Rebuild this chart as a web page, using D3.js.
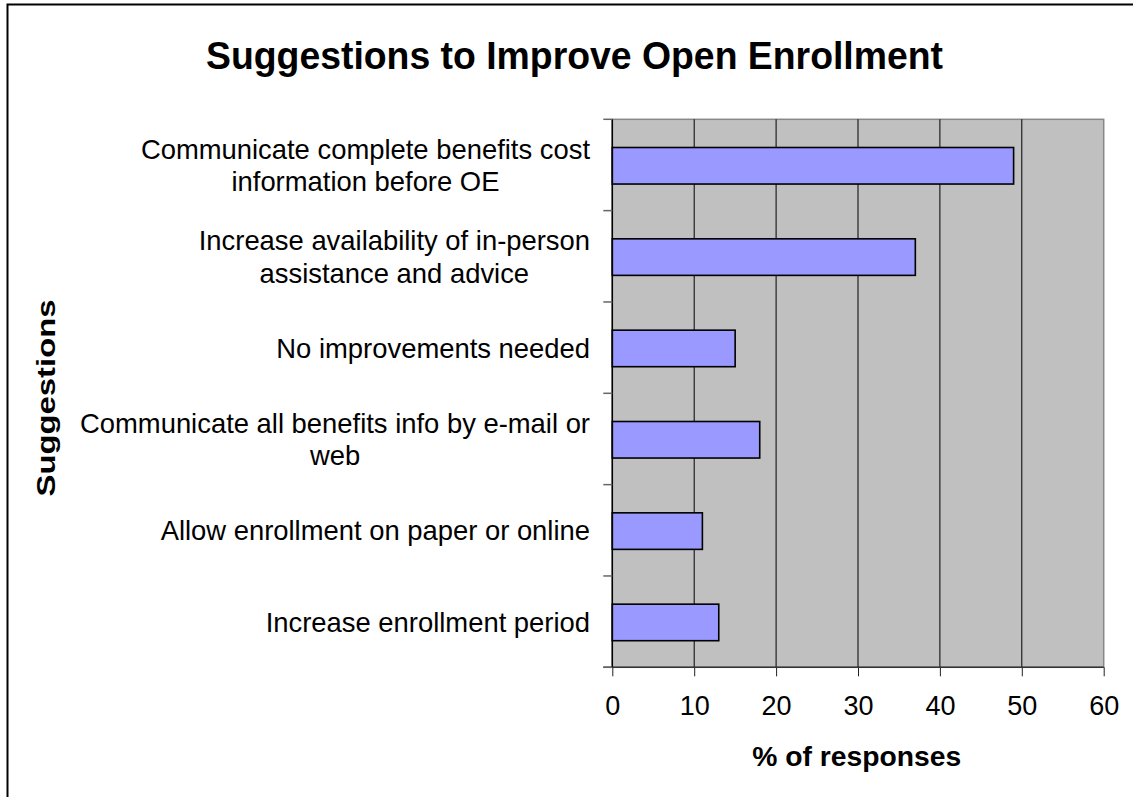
<!DOCTYPE html>
<html>
<head>
<meta charset="utf-8">
<script src="https://cdn.jsdelivr.net/npm/d3@7"></script>
<style>
  html, body { margin: 0; padding: 0; background: #fff; }
  svg { display: block; font-family: "Liberation Sans", Arial, sans-serif; }
</style>
</head>
<body>
<svg id="chart" width="1133" height="797"></svg>
<script>
// Survey responses: suggestions to improve open enrollment
const categories = [
  ["Communicate complete benefits cost", "information before OE"],
  ["Increase availability of in-person", "assistance and advice"],
  ["No improvements needed"],
  ["Communicate all benefits info by e-mail or", "web"],
  ["Allow enrollment on paper or online"],
  ["Increase enrollment period"]
];
const values = [49, 37, 15, 18, 11, 13];
const xTicks = [0, 10, 20, 30, 40, 50, 60];

const title = "Suggestions to Improve Open Enrollment";
const xTitle = "% of responses";
const yTitle = "Suggestions";

const svg = d3.select("#chart");

// outer chart frame
svg.append("rect")
  .attr("x", 7.5).attr("y", 4.5)
  .attr("width", 1300).attr("height", 1000)
  .attr("fill", "#fff").attr("stroke", "#000").attr("stroke-width", 2);

const plot = { left: 612.3, right: 1103.7, top: 119.3, bottom: 667.3 };

const x = d3.scaleLinear().domain([0, 60]).range([plot.left, plot.right]);
const keys = categories.map((c, i) => i);
const y = d3.scaleBand().domain(keys).range([plot.top, plot.bottom])
  .paddingInner(0.6).paddingOuter(0.3);

// plot area background
svg.append("rect")
  .attr("x", plot.left).attr("y", plot.top)
  .attr("width", plot.right - plot.left).attr("height", plot.bottom - plot.top)
  .attr("fill", "#c0c0c0").attr("stroke", "#888").attr("stroke-width", 1.5);

// vertical gridlines
svg.append("g").selectAll("line")
  .data(xTicks.slice(1, -1))
  .join("line")
  .attr("x1", d => x(d)).attr("x2", d => x(d))
  .attr("y1", plot.top).attr("y2", plot.bottom)
  .attr("stroke", "#000").attr("stroke-width", 1);

// bars
svg.append("g").selectAll("rect")
  .data(values)
  .join("rect")
  .attr("x", x(0))
  .attr("y", (d, i) => y(i) + 0.8)
  .attr("width", d => x(d) - x(0))
  .attr("height", y.bandwidth())
  .attr("fill", "#9999ff")
  .attr("stroke", "#000").attr("stroke-width", 1.6);

// x axis
const xAxis = svg.append("g")
  .attr("transform", `translate(0,${plot.bottom})`)
  .call(d3.axisBottom(x).tickValues(xTicks).tickSize(9).tickPadding(20).tickSizeOuter(0));
xAxis.select(".domain").remove();
xAxis.selectAll(".tick line").attr("stroke", "#222");
xAxis.selectAll(".tick text")
  .attr("font-size", 27).attr("fill", "#000")
  .attr("font-family", "Liberation Sans, Arial, sans-serif");
svg.append("line")
  .attr("x1", plot.left - 9).attr("x2", plot.right)
  .attr("y1", plot.bottom).attr("y2", plot.bottom)
  .attr("stroke", "#333").attr("stroke-width", 1.5);

// y axis line and boundary ticks
svg.append("line")
  .attr("x1", plot.left).attr("x2", plot.left)
  .attr("y1", plot.top).attr("y2", plot.bottom)
  .attr("stroke", "#000").attr("stroke-width", 1.5);
const boundaries = d3.range(categories.length + 1).map(i => plot.top + i * y.step());
svg.append("g").selectAll("line")
  .data(boundaries)
  .join("line")
  .attr("x1", plot.left - 9).attr("x2", plot.left)
  .attr("y1", d => d).attr("y2", d => d)
  .attr("stroke", "#666").attr("stroke-width", 1.5);

// category labels: block right-aligned, lines centred within block
const lineH = 32.7;
const fs = 27.4;
const labelRight = 590;
const labels = svg.append("g")
  .attr("font-size", fs).attr("fill", "#000");
categories.forEach((lines, i) => {
  const cy = y(i) + y.bandwidth() / 2;
  const g = labels.append("g");
  const texts = lines.map((ln, j) => g.append("text")
    .attr("y", cy + 10 + (j - (lines.length - 1) / 2) * lineH)
    .text(ln));
  const widths = texts.map(t => t.node().getComputedTextLength());
  const maxW = d3.max(widths);
  const center = labelRight - maxW / 2;
  texts.forEach(t => t.attr("x", center).attr("text-anchor", "middle"));
});

// titles
svg.append("text")
  .attr("x", 574.5).attr("y", 69)
  .attr("text-anchor", "middle")
  .attr("font-size", 38).attr("font-weight", "bold")
  .attr("textLength", 737).attr("lengthAdjust", "spacingAndGlyphs")
  .text(title);

svg.append("text")
  .attr("x", 856.7).attr("y", 766)
  .attr("text-anchor", "middle")
  .attr("font-size", 28).attr("font-weight", "bold")
  .attr("textLength", 209).attr("lengthAdjust", "spacingAndGlyphs")
  .text(xTitle);

svg.append("text")
  .attr("transform", `translate(55,398) rotate(-90)`)
  .attr("text-anchor", "middle")
  .attr("font-size", 26.7).attr("font-weight", "bold")
  .attr("textLength", 197).attr("lengthAdjust", "spacingAndGlyphs")
  .text(yTitle);
</script>
</body>
</html>
